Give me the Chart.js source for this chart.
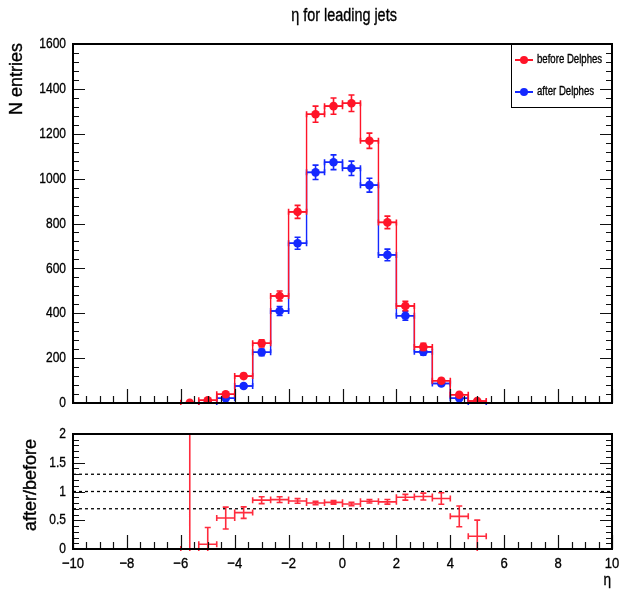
<!DOCTYPE html>
<html>
<head>
<meta charset="utf-8">
<script src="https://cdn.jsdelivr.net/npm/chart.js@4.4.1/dist/chart.umd.min.js"></script>
<style>
  html, body { margin: 0; padding: 0; background: #fff; }
  #wrap { position: relative; width: 619px; height: 593px; }
  #top { position: absolute; left: 0; top: 0; }
  #bottom { position: absolute; left: 0; top: 420px; }
</style>
</head>
<body>
<div id="wrap">
  <canvas id="top" width="619" height="420"></canvas>
  <canvas id="bottom" width="619" height="173"></canvas>
</div>
<script>
// eta bins (width 2/3) that hold entries
const etaCenters = [-5.667, -5.0, -4.333, -3.667, -3.0, -2.333, -1.667, -1.0, -0.333,
                    0.333, 1.0, 1.667, 2.333, 3.0, 3.667, 4.333, 5.0];
const binWidth = 0.6667;

const beforeDelphes = [1, 12, 39, 120, 266, 477, 852, 1287, 1323, 1336, 1169, 805, 432, 250, 99, 37, 9];
const beforeErr     = [1, 3, 6, 11, 16, 22, 29, 36, 36, 37, 34, 28, 21, 16, 10, 6, 3];
const afterDelphes  = [0, 1, 21, 76, 226, 410, 712, 1028, 1073, 1046, 971, 660, 389, 228, 87, 21, 2];
const afterErr      = [0, 1, 5, 9, 15, 20, 27, 32, 33, 32, 31, 26, 20, 15, 9, 5, 1];
const ratioErr      = [3, 0.29, 0.19, 0.1, 0.06, 0.05, 0.04, 0.03, 0.03, 0.03, 0.03, 0.04, 0.05, 0.06, 0.1, 0.18, 0.28];
const refLines      = [0.7, 1.0, 1.3];

const xTicks      = [-10, -8, -6, -4, -2, 0, 2, 4, 6, 8, 10];
const entryTicks  = [0, 200, 400, 600, 800, 1000, 1200, 1400, 1600];
const ratioTicks  = [0, 0.5, 1, 1.5, 2];

const RED = '#ff1428';
const BLUE = '#1428ff';
const SANS = "'Liberation Sans', Arial, sans-serif";

Chart.defaults.font.family = SANS;
Chart.defaults.color = '#000';

// horizontally squeezed text, close to helvetica narrow
function label(ctx, text, x, y, size, align, sx) {
  ctx.save();
  ctx.translate(x, y);
  ctx.scale(sx, 1);
  ctx.font = size + 'px ' + SANS;
  ctx.textAlign = align;
  ctx.textBaseline = 'middle';
  ctx.fillStyle = '#000';
  ctx.strokeStyle = '#000';
  ctx.lineWidth = 0.35;
  ctx.fillText(text, 0, 0);
  ctx.strokeText(text, 0, 0);
  ctx.restore();
}

const fmt = v => (v < 0 ? '\u2212' + Math.abs(v) : String(v));

// error crosses drawn under each dataset's markers
const errorBars = {
  id: 'errorBars',
  beforeDatasetDraw(chart, args) {
    const ds = chart.data.datasets[args.index];
    if (!ds.errorBars) return;
    const { ctx, chartArea: a, scales: { x, y } } = chart;
    const cap = 3;
    ctx.save();
    ctx.beginPath();
    ctx.rect(a.left, a.top, a.right - a.left, a.bottom - a.top + 2);
    ctx.clip();
    ctx.strokeStyle = ds.errColor;
    ctx.lineWidth = 1.6;
    ctx.beginPath();
    ds.data.forEach(p => {
      const px = x.getPixelForValue(p.x), py = y.getPixelForValue(p.y);
      const x0 = x.getPixelForValue(p.x - p.ex), x1 = x.getPixelForValue(p.x + p.ex);
      const y0 = y.getPixelForValue(p.y - p.ey), y1 = y.getPixelForValue(p.y + p.ey);
      ctx.moveTo(x0, py); ctx.lineTo(x1, py);
      ctx.moveTo(x0, py - cap); ctx.lineTo(x0, py + cap);
      ctx.moveTo(x1, py - cap); ctx.lineTo(x1, py + cap);
      ctx.moveTo(px, y0); ctx.lineTo(px, y1);
      ctx.moveTo(px - cap, y0); ctx.lineTo(px + cap, y0);
      ctx.moveTo(px - cap, y1); ctx.lineTo(px + cap, y1);
    });
    ctx.stroke();
    ctx.restore();
  }
};

// ROOT style frame: inward ticks on bottom, left and right, plus tick labels
const rootFrame = {
  id: 'rootFrame',
  afterDatasetsDraw(chart, args, o) {
    const { ctx, chartArea: a, scales: { x, y } } = chart;
    ctx.save();
    ctx.strokeStyle = '#111';
    ctx.lineWidth = 1.2;
    ctx.beginPath();
    for (let v = -10; v <= 10.001; v += 0.5) {
      const major = xTicks.some(t => Math.abs(t - v) < 1e-6);
      const px = Math.round(x.getPixelForValue(v)) + 0.5;
      ctx.moveTo(px, a.bottom);
      ctx.lineTo(px, a.bottom - (major ? o.xMajor : o.xMinor));
    }
    for (let v = y.min; v <= y.max + 1e-6; v += o.yMinorStep) {
      const major = o.yTicks.some(t => Math.abs(t - v) < 1e-6);
      const py = Math.round(y.getPixelForValue(v)) + 0.5;
      const len = major ? o.yMajor : o.yMinor;
      ctx.moveTo(a.left, py); ctx.lineTo(a.left + len, py);
      ctx.moveTo(a.right, py); ctx.lineTo(a.right - len, py);
    }
    ctx.stroke();
    ctx.lineWidth = 2;
    ctx.strokeStyle = '#000';
    ctx.strokeRect(a.left, a.top, a.right - a.left, a.bottom - a.top);
    ctx.restore();

    y.ticks.forEach(t => label(ctx, fmt(t.value), a.left - 7, y.getPixelForValue(t.value), 15, 'right', 0.8));
    if (o.xLabels) {
      x.ticks.forEach(t => label(ctx, fmt(t.value), x.getPixelForValue(t.value), a.bottom + 15, 15, 'center', 0.87));
    }
  }
};

// titles and legend
const annotations = {
  id: 'annotations',
  afterDraw(chart, args, o) {
    const { ctx } = chart;
    (o.texts || []).forEach(t => {
      if (t.rotate) {
        ctx.save();
        ctx.font = t.size + 'px ' + SANS;
        ctx.textAlign = t.align;
        ctx.textBaseline = 'middle';
        ctx.fillStyle = '#000';
        ctx.strokeStyle = '#000';
        ctx.lineWidth = 0.35;
        ctx.translate(t.x, t.y);
        ctx.rotate(-Math.PI / 2);
        ctx.fillText(t.text, 0, 0);
        ctx.strokeText(t.text, 0, 0);
        ctx.restore();
      } else {
        label(ctx, t.text, t.x, t.y, t.size, t.align, 0.8);
      }
    });
    if (o.legend) {
      const L = o.legend;
      ctx.save();
      ctx.strokeStyle = '#000';
      ctx.lineWidth = 1;
      ctx.strokeRect(L.x + 0.5, L.y + 0.5, L.w, L.h);
      L.items.forEach((it, i) => {
        const cy = L.y + L.first + i * L.step;
        ctx.strokeStyle = it.color;
        ctx.lineWidth = 2;
        ctx.beginPath();
        ctx.moveTo(L.x + 4, cy); ctx.lineTo(L.x + 22, cy);
        ctx.stroke();
        ctx.fillStyle = it.color;
        ctx.beginPath();
        ctx.arc(L.x + 13, cy, 4, 0, Math.PI * 2);
        ctx.fill();
        label(ctx, it.label, L.x + 26, cy, 12, 'left', 0.8);
      });
      ctx.restore();
    }
  }
};

function pointSet(name, color, vals, errs, order) {
  return {
    label: name, order,
    data: etaCenters.map((x, i) => ({ x, y: vals[i], ex: binWidth / 2, ey: errs[i] }))
                    .filter(p => p.y > 0),
    showLine: false,
    pointRadius: 4.3, pointHoverRadius: 4.3, pointBorderWidth: 0,
    backgroundColor: color, borderColor: color,
    errorBars: true, errColor: color
  };
}

function stepSet(color, vals, order) {
  const first = etaCenters[0] - binWidth / 2;
  const last = etaCenters[etaCenters.length - 1] + binWidth / 2;
  const pts = [{ x: first, y: 0 }];
  etaCenters.forEach((c, i) => pts.push({ x: c - binWidth / 2, y: vals[i] }));
  pts.push({ x: last, y: vals[vals.length - 1] });
  pts.push({ x: last, y: 0 });
  return {
    order, data: pts, showLine: true, stepped: 'before',
    pointRadius: 0, borderColor: color, borderWidth: 1.4, fill: false
  };
}

function fixedScale(width, extra) {
  return Object.assign({
    afterFit(s) {
      if (width !== undefined) s.width = width;
      s.paddingLeft = s.paddingRight = s.paddingTop = s.paddingBottom = 0;
    },
    grid: { display: false, drawTicks: false },
    border: { display: false },
    ticks: { display: false }
  }, extra);
}

new Chart(document.getElementById('top'), {
  type: 'scatter',
  data: {
    datasets: [
      pointSet('before Delphes', RED, beforeDelphes, beforeErr, 0),
      stepSet(RED, beforeDelphes, 1),
      pointSet('after Delphes', BLUE, afterDelphes, afterErr, 2),
      stepSet(BLUE, afterDelphes, 3)
    ]
  },
  options: {
    responsive: false, animation: false, devicePixelRatio: 1,
    layout: { padding: { left: 0, right: 7, top: 44, bottom: 17 } },
    scales: {
      x: fixedScale(undefined, { type: 'linear', min: -10, max: 10, display: false }),
      y: fixedScale(73, {
        type: 'linear', min: 0, max: 1600,
        afterBuildTicks(s) { s.ticks = entryTicks.map(v => ({ value: v })); }
      })
    },
    plugins: {
      legend: { display: false }, tooltip: { enabled: false },
      rootFrame: { xMajor: 14, xMinor: 7, yTicks: entryTicks, yMinorStep: 40, yMajor: 12, yMinor: 6 },
      annotations: {
        texts: [
          { text: 'η for leading jets', x: 344, y: 16, align: 'center', size: 18 },
          { text: 'N entries', x: 17, y: 43, align: 'right', rotate: true, size: 18 }
        ],
        legend: {
          x: 511, y: 44, w: 101, h: 63, first: 16, step: 32,
          items: [{ label: 'before Delphes', color: RED }, { label: 'after Delphes', color: BLUE }]
        }
      }
    }
  },
  plugins: [errorBars, rootFrame, annotations]
});

const ratio = etaCenters.map((x, i) => ({
  x, y: afterDelphes[i] / beforeDelphes[i], ex: binWidth / 2, ey: ratioErr[i]
}));

new Chart(document.getElementById('bottom'), {
  type: 'scatter',
  data: {
    datasets: [
      {
        order: 0, data: ratio, showLine: false, pointRadius: 0,
        errorBars: true, errColor: 'rgba(255,20,40,0.9)'
      },
      ...refLines.map(v => ({
        order: 1, data: [{ x: -10, y: v }, { x: 10, y: v }], showLine: true,
        pointRadius: 0, borderColor: '#000', borderWidth: 1.3, borderDash: [3, 3]
      }))
    ]
  },
  options: {
    responsive: false, animation: false, devicePixelRatio: 1,
    layout: { padding: { left: 0, right: 7, top: 14, bottom: 0 } },
    scales: {
      x: fixedScale(undefined, {
        type: 'linear', min: -10, max: 10,
        afterFit(s) { s.height = 44; s.paddingLeft = s.paddingRight = 0; },
        afterBuildTicks(s) { s.ticks = xTicks.map(v => ({ value: v })); }
      }),
      y: fixedScale(73, {
        type: 'linear', min: 0, max: 2,
        afterBuildTicks(s) { s.ticks = ratioTicks.map(v => ({ value: v })); }
      })
    },
    plugins: {
      legend: { display: false }, tooltip: { enabled: false },
      rootFrame: { xMajor: 14, xMinor: 7, yTicks: ratioTicks, yMinorStep: 0.1, yMajor: 12, yMinor: 6, xLabels: true },
      annotations: {
        texts: [
          { text: 'after/before', x: 31, y: 65, align: 'center', rotate: true, size: 18 },
          { text: 'η', x: 611, y: 160, align: 'right', size: 17 }
        ]
      }
    }
  },
  plugins: [errorBars, rootFrame, annotations]
});
</script>
</body>
</html>
